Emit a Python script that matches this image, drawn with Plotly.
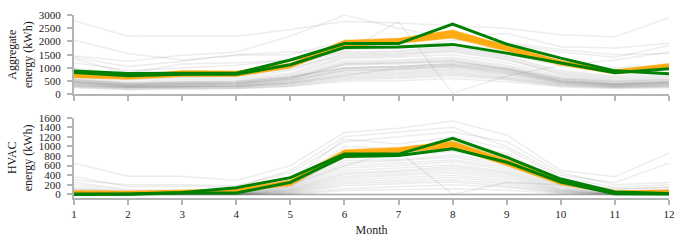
import plotly.graph_objects as go

months = [1, 2, 3, 4, 5, 6, 7, 8, 9, 10, 11, 12]

# Aggregate energy (kWh) - highlighted homes
agg_green_a = [880, 790, 800, 800, 1300, 1920, 1920, 2660, 1900, 1370, 890, 780]
agg_green_b = [830, 710, 760, 760, 1120, 1770, 1790, 1890, 1560, 1180, 820, 970]
agg_band_low = [630, 570, 680, 680, 1000, 1800, 1920, 2130, 1640, 1100, 770, 940]
agg_band_high = [800, 730, 900, 880, 1180, 2050, 2120, 2430, 1850, 1280, 930, 1170]

# HVAC energy (kWh) - highlighted homes
hvac_green_a = [10, 10, 40, 140, 350, 840, 840, 1170, 775, 320, 50, 20]
hvac_green_b = [0, 5, 30, 30, 250, 790, 810, 950, 670, 260, 15, 10]
hvac_band_low = [20, 25, 40, 60, 180, 820, 880, 960, 600, 200, 20, 30]
hvac_band_high = [80, 70, 90, 110, 300, 930, 980, 1110, 730, 300, 80, 90]

# Other homes (gray background lines)
agg_other_homes = [
    [2780, 2200, 2210, 2200, 2450, 2750, 2700, 2600, 2500, 2250, 2180, 2900],
    [2050, 1550, 1300, 1480, 1500, 2000, 2100, 2200, 2300, 1800, 1750, 1930],
    [1450, 1250, 1480, 1600, 2200, 3000, 2500, 2100, 1900, 1600, 1400, 1850],
    [1350, 800, 1150, 1200, 1300, 1600, 2750, 50, 700, 1100, 1300, 1600],
    [1400, 1050, 1250, 1500, 1600, 1700, 1750, 2050, 1950, 1700, 1500, 1550],
    [1200, 900, 1000, 1100, 1300, 1800, 1850, 1900, 1700, 1200, 1000, 1100],
    [950, 650, 700, 750, 950, 1550, 1600, 1750, 1450, 900, 700, 850],
    [650, 480, 550, 580, 800, 1400, 1450, 1600, 1300, 800, 600, 700],
    [600, 420, 500, 520, 750, 1350, 1400, 1500, 1200, 700, 520, 600],
    [550, 400, 450, 480, 700, 1250, 1300, 1400, 1100, 650, 480, 550],
    [520, 380, 430, 450, 650, 1200, 1250, 1350, 1050, 600, 450, 520],
    [500, 360, 400, 420, 620, 1150, 1200, 1300, 1000, 580, 420, 500],
    [480, 350, 380, 400, 600, 1100, 1150, 1250, 950, 560, 400, 480],
    [450, 330, 360, 380, 560, 1000, 1050, 1150, 900, 520, 380, 450],
    [430, 320, 340, 360, 520, 950, 1000, 1100, 850, 480, 360, 420],
    [420, 300, 330, 350, 500, 900, 950, 1050, 800, 460, 350, 400],
    [400, 290, 310, 330, 480, 850, 900, 1000, 780, 440, 340, 390],
    [380, 280, 300, 320, 450, 800, 850, 950, 750, 420, 320, 370],
    [360, 270, 290, 300, 430, 750, 800, 900, 700, 400, 300, 350],
    [340, 260, 280, 290, 400, 700, 750, 850, 650, 380, 290, 330],
    [320, 240, 260, 270, 380, 650, 700, 800, 620, 360, 280, 320],
    [300, 220, 240, 250, 350, 600, 650, 750, 580, 340, 260, 300],
    [280, 200, 220, 230, 320, 550, 600, 700, 550, 320, 250, 280],
    [700, 550, 620, 650, 900, 1450, 1500, 1700, 1400, 850, 650, 750],
    [820, 600, 650, 700, 1000, 1500, 1550, 1650, 1350, 750, 550, 650],
    [560, 430, 470, 500, 680, 1000, 1050, 1150, 950, 600, 500, 560],
    [460, 340, 380, 400, 550, 900, 950, 1050, 850, 520, 400, 460],
    [350, 260, 300, 320, 420, 700, 1000, 1100, 900, 450, 330, 380],
    [250, 180, 200, 210, 300, 500, 520, 600, 480, 280, 220, 250],
    [540, 400, 440, 460, 640, 1000, 1050, 1200, 1000, 520, 380, 470],
    [1000, 750, 800, 850, 1100, 1600, 1650, 1800, 1500, 1100, 900, 1000],
    [470, 350, 390, 410, 580, 1150, 1200, 1250, 950, 500, 380, 430],
]

hvac_other_homes = [
    [650, 380, 380, 290, 600, 1290, 1380, 1530, 1240, 500, 370, 860],
    [370, 160, 170, 150, 500, 1200, 1300, 1400, 1000, 400, 250, 650],
    [250, 100, 90, 80, 300, 1150, 1050, 1200, 950, 350, 150, 200],
    [200, 80, 70, 60, 250, 1000, 950, 1100, 850, 300, 100, 150],
    [150, 50, 50, 40, 200, 750, 800, 900, 700, 250, 60, 100],
    [80, 30, 30, 30, 180, 700, 720, 820, 650, 220, 40, 80],
    [50, 20, 20, 20, 150, 650, 700, 780, 600, 200, 30, 60],
    [40, 15, 15, 20, 130, 600, 650, 720, 560, 180, 20, 50],
    [30, 10, 10, 15, 120, 550, 600, 680, 520, 160, 15, 40],
    [30, 10, 10, 10, 100, 500, 550, 620, 480, 140, 10, 30],
    [20, 5, 5, 10, 90, 450, 500, 580, 450, 120, 10, 30],
    [20, 5, 5, 5, 80, 420, 470, 540, 420, 100, 5, 20],
    [10, 5, 5, 5, 70, 380, 430, 500, 380, 90, 5, 20],
    [10, 0, 0, 5, 60, 340, 390, 450, 340, 80, 5, 10],
    [10, 0, 0, 0, 50, 300, 350, 400, 300, 70, 0, 10],
    [5, 0, 0, 0, 40, 260, 300, 350, 260, 60, 0, 10],
    [5, 0, 0, 0, 30, 220, 260, 300, 220, 50, 0, 5],
    [0, 0, 0, 0, 20, 180, 220, 260, 180, 40, 0, 0],
    [0, 0, 0, 0, 10, 120, 160, 200, 150, 30, 0, 0],
    [0, 0, 0, 0, 5, 80, 100, 120, 90, 20, 0, 0],
    [0, 0, 0, 0, 0, 0, 0, 0, 0, 0, 0, 0],
    [0, 0, 0, 0, 0, 0, 0, 0, 0, 0, 0, 0],
    [0, 0, 0, 0, 0, 0, 0, 0, 0, 0, 0, 0],
    [0, 0, 0, 0, 0, 0, 0, 0, 0, 0, 0, 0],
    [0, 0, 0, 0, 0, 0, 0, 0, 0, 0, 0, 0],
    [0, 0, 0, 0, 0, 0, 0, 0, 0, 0, 0, 0],
    [100, 40, 40, 30, 220, 900, 880, 950, 780, 260, 50, 90],
    [60, 20, 20, 20, 160, 820, 860, 960, 620, 240, 30, 60],
    [120, 60, 60, 50, 200, 600, 900, 0, 250, 200, 120, 150],
    [300, 200, 200, 180, 450, 1100, 1200, 1300, 1100, 450, 200, 250],
]

y_title_agg = "Aggregate<br>energy (kWh)"
y_title_hvac = "HVAC<br>energy (kWh)"
x_title = "Month"

GRAY = "rgba(110,110,110,0.12)"
ORANGE = "rgba(255,165,0,0.92)"
GREEN = "#008000"

fig = go.Figure()


def add_panel(others, low, high, ga, gb, xa, ya):
    for row in others:
        fig.add_trace(go.Scatter(x=months, y=row, mode="lines",
                                 line=dict(color=GRAY, width=1.5),
                                 xaxis=xa, yaxis=ya, hoverinfo="skip"))
    fig.add_trace(go.Scatter(x=months, y=low, mode="lines",
                             line=dict(color=ORANGE, width=0.5),
                             xaxis=xa, yaxis=ya, hoverinfo="skip"))
    fig.add_trace(go.Scatter(x=months, y=high, mode="lines", fill="tonexty",
                             fillcolor=ORANGE, line=dict(color=ORANGE, width=0.5),
                             xaxis=xa, yaxis=ya, hoverinfo="skip"))
    for g in (gb, ga):
        fig.add_trace(go.Scatter(x=months, y=g, mode="lines",
                                 line=dict(color=GREEN, width=3),
                                 xaxis=xa, yaxis=ya))


add_panel(agg_other_homes, agg_band_low, agg_band_high, agg_green_a, agg_green_b, "x", "y")
add_panel(hvac_other_homes, hvac_band_low, hvac_band_high, hvac_green_a, hvac_green_b, "x2", "y2")

FONT = "Liberation Serif"
TXT = "#222"
axis_common = dict(showline=True, linecolor="#b4b4b4", linewidth=2,
                   ticks="outside", tickcolor="#b4b4b4", ticklen=5, tickwidth=1.5,
                   showgrid=False, zeroline=False, automargin=False,
                   tickfont=dict(family=FONT, size=11, color=TXT))

fig.update_layout(
    width=685, height=246,
    margin=dict(l=74, r=16, t=15, b=48),
    plot_bgcolor="white", paper_bgcolor="white",
    showlegend=False,
    font=dict(family=FONT, size=12, color=TXT),
    xaxis=dict(anchor="y", range=[1, 12], tickvals=months, showticklabels=False,
               domain=[0, 1], **axis_common),
    yaxis=dict(anchor="x", domain=[0.566, 1], range=[0, 3000], dtick=500,
               ticklabelstandoff=4,
               title=dict(text=y_title_agg, font=dict(family=FONT, size=12, color=TXT),
                          standoff=4),
               **axis_common),
    xaxis2=dict(anchor="y2", range=[1, 12], tickvals=months, domain=[0, 1],
                title=dict(text=x_title, font=dict(family=FONT, size=12, color=TXT),
                           standoff=6),
                **axis_common),
    yaxis2=dict(anchor="x2", domain=[0, 0.439], range=[-75, 1600], dtick=200,
                ticklabelstandoff=4,
                title=dict(text=y_title_hvac, font=dict(family=FONT, size=12, color=TXT),
                           standoff=4),
                **axis_common),
)

fig.write_html("out.html", config={"displayModeBar": False},
               post_script="document.body.style.margin='0';")
